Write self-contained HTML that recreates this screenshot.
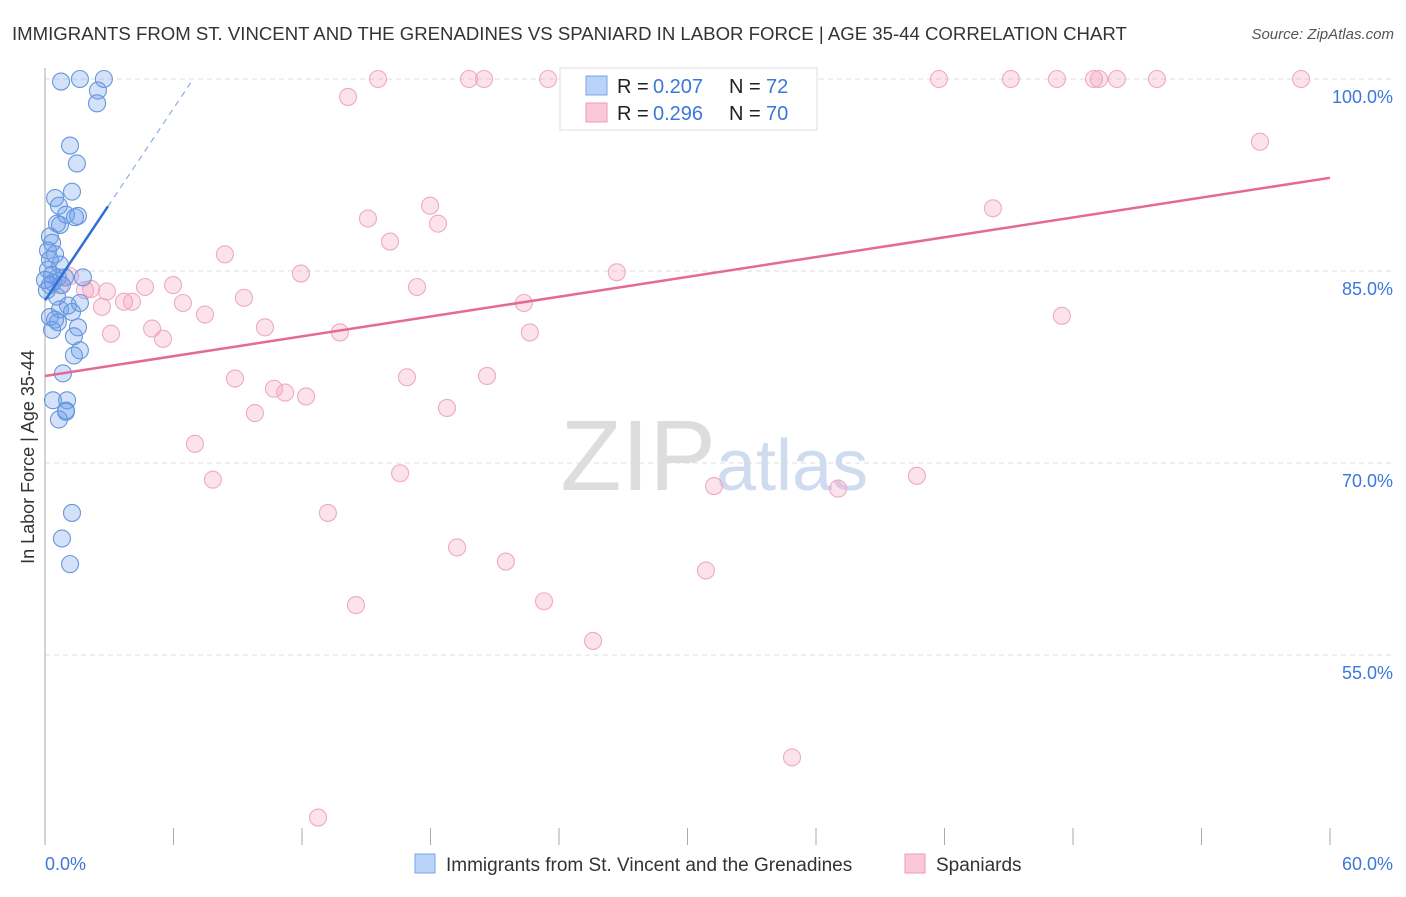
<!DOCTYPE html>
<html><head><meta charset="utf-8"><style>
body{margin:0;background:#fff;font-family:"Liberation Sans",sans-serif}
svg text{font-family:"Liberation Sans",sans-serif}
</style></head><body>
<svg width="1406" height="892">
<text x="12" y="40" font-size="18.6" fill="#333">IMMIGRANTS FROM ST. VINCENT AND THE GRENADINES VS SPANIARD IN LABOR FORCE | AGE 35-44 CORRELATION CHART</text>
<text x="1394" y="39" font-size="15" fill="#555" font-style="italic" text-anchor="end">Source: ZipAtlas.com</text>
<g id="grid"></g>
<text x="716" y="490" font-size="100" font-family="Liberation Serif" fill="#ddd" text-anchor="end">ZIP</text>
<text x="716" y="490" font-size="72" fill="#cfdcf0">atlas</text>
<line x1="45" y1="68" x2="45" y2="845" stroke="#aaa"/>
<text transform="translate(34,457) rotate(-90)" font-size="18" fill="#333" text-anchor="middle">In Labor Force | Age 35-44</text>
<text x="45" y="870" font-size="18" fill="#3b78d8">0.0%</text>
<text x="1393" y="870" font-size="18" fill="#3b78d8" text-anchor="end">60.0%</text>
<g id="pts"></g>
<g id="lines"></g>
<g>
<rect x="560" y="68" width="257" height="62" fill="#fff" stroke="#ddd"/>
<rect x="586" y="76" width="21" height="19" fill="#b8d2f8" stroke="#7aa6e6"/>
<rect x="586" y="103" width="21" height="19" fill="#fbc8d8" stroke="#ee9ab6"/>
<text x="617" y="93" font-size="20" fill="#222">R =</text>
<text x="653" y="93" font-size="20" fill="#3b78d8">0.207</text>
<text x="729" y="93" font-size="20" fill="#222">N =</text>
<text x="766" y="93" font-size="20" fill="#3b78d8">72</text>
<text x="617" y="120" font-size="20" fill="#222">R =</text>
<text x="653" y="120" font-size="20" fill="#3b78d8">0.296</text>
<text x="729" y="120" font-size="20" fill="#222">N =</text>
<text x="766" y="120" font-size="20" fill="#3b78d8">70</text>
</g>
<g>
<rect x="415" y="854" width="20" height="19" fill="#b8d2f8" stroke="#7aa6e6"/>
<text x="446" y="871" font-size="19" fill="#333">Immigrants from St. Vincent and the Grenadines</text>
<rect x="905" y="854" width="20" height="19" fill="#fbc8d8" stroke="#ee9ab6"/>
<text x="936" y="871" font-size="19" fill="#333">Spaniards</text>
</g>
</svg>
<script>
const yTicks=[100,85,70,55];
const yTickLabels=["100.0%","85.0%","70.0%","55.0%"];
const xTicks=[0,6,12,18,24,30,36,42,48,54,60];
const blueX=[0.75,1.63,2.75,2.47,2.43,1.17,1.49,1.26,0.47,0.65,0.98,1.54,1.40,0.56,0.70,0.23,0.33,0.14,0.47,0.23,0.70,0.33,0.60,1.77,0.93,0.23,0.56,1.07,1.63,0.70,1.26,0.23,0.47,0.60,1.54,0.33,1.35,1.63,1.35,0.84,0.37,1.03,0.98,0.98,0.65,1.26,0.79,1.17,0.09,0.14,0.37,0.79,0];
const blueY=[99.8,100,100,99.1,98.1,94.8,93.4,91.2,90.7,90.1,89.4,89.3,89.2,88.7,88.6,87.7,87.2,86.6,86.3,85.9,85.5,84.7,84.5,84.5,84.5,83.9,83.0,82.3,82.5,82.0,81.8,81.4,81.2,81.0,80.6,80.4,79.9,78.8,78.4,77.0,74.9,74.9,74.1,74.0,73.4,66.1,64.1,62.1,83.5,85.1,84.1,83.9,84.3];
const pinkX=[15.55,19.8,20.5,23.49,24.47,41.74,45.1,47.25,48.98,49.21,50.05,51.92,58.65,14.15,24.65,56.73,17.98,44.26,15.08,18.35,16.11,8.40,11.95,26.7,1.17,5.98,17.37,4.67,2.15,2.89,9.29,3.69,4.06,6.44,22.36,2.66,7.47,47.48,10.27,5.0,13.77,22.64,5.51,3.08,8.87,16.9,20.64,10.69,11.21,12.19,9.8,18.77,7.0,16.58,7.84,40.71,31.24,37.03,13.21,19.24,21.52,30.86,23.3,14.52,25.59,34.88,12.75,0.7,1.87];
const pinkY=[100,100,100,100,100,100,100,100,100,100,100,100,100,98.6,97.7,95.1,90.1,89.9,89.1,88.7,87.3,86.3,84.8,84.9,84.6,83.9,83.75,83.75,83.6,83.4,82.9,82.6,82.6,82.5,82.5,82.2,81.6,81.5,80.6,80.5,80.2,80.2,79.7,80.1,76.6,76.7,76.8,75.8,75.5,75.2,73.9,74.3,71.5,69.2,68.7,69.0,68.2,68.0,66.1,63.4,62.3,61.6,59.2,58.9,56.1,47.0,42.3,83.9,83.5];
const blueFit=[82.7,2.5], pinkFit=[76.8,0.258];
const NS="http://www.w3.org/2000/svg";
const X=v=>45+v/60*1285, Y=v=>79+(100-v)*12.8;
function mk(t,a,p){const e=document.createElementNS(NS,t);for(const k in a)e.setAttribute(k,a[k]);p.appendChild(e);return e;}
const grid=document.getElementById('grid');
yTicks.forEach((t,i)=>{
 const l=mk('line',{x1:45,x2:1393,y1:Y(t),y2:Y(t),stroke:'#ddd','stroke-dasharray':'5,4'},grid);
 
 
 const tx=mk('text',{x:1393,y:Y(t)+24,'font-size':18,fill:'#3b78d8','text-anchor':'end'},grid);
 tx.textContent=yTickLabels[i];
 
 
});
xTicks.forEach(t=>{
 const l=mk('line',{x1:X(t),x2:X(t),y1:828,y2:845,stroke:'#aaa'},grid);
 
 
});
const pts=document.getElementById('pts');
pinkX.forEach((v,i)=>{
 const c=mk('circle',{cx:X(v),cy:Y(pinkY[i]),r:8.5,fill:'rgba(245,160,190,0.3)',stroke:'#eeaac2','stroke-width':1.1},pts);
 
 
});
blueX.forEach((v,i)=>{
 const c=mk('circle',{cx:X(v),cy:Y(blueY[i]),r:8.5,fill:'rgba(110,160,235,0.3)',stroke:'#6696dc','stroke-width':1.1},pts);
 
 
});
const ln=document.getElementById('lines');
let e=mk('line',{x1:X(0),y1:Y(pinkFit[0]),x2:X(60),y2:Y(pinkFit[0]+60*pinkFit[1]),stroke:'#e4689a','stroke-width':2.5},ln);


e=mk('line',{x1:X(0),y1:Y(blueFit[0]),x2:X(2.94),y2:Y(blueFit[0]+2.94*blueFit[1]),stroke:'#2f6fd6','stroke-width':2.5},ln);


e=mk('line',{x1:X(2.94),y1:Y(blueFit[0]+2.94*blueFit[1]),x2:X(6.8),y2:Y(blueFit[0]+6.8*blueFit[1]),stroke:'#8aaee6','stroke-width':1.2,'stroke-dasharray':'6,5'},ln);


</script>
</body></html>
